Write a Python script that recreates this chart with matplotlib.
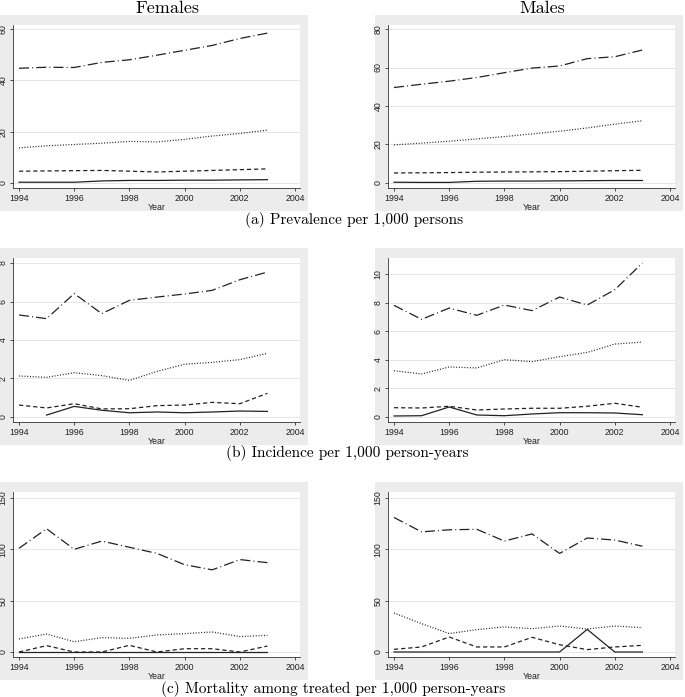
import numpy as np
import matplotlib
matplotlib.use("Agg")
import matplotlib.pyplot as plt
from matplotlib.patches import Rectangle

years = [1994, 1995, 1996, 1997, 1998, 1999, 2000, 2001, 2002, 2003]

# Prevalence per 1,000 persons
prev_f_top = [44.7, 45.1, 45.0, 47.0, 48.0, 49.8, 51.7, 53.6, 56.3, 58.4]
prev_f_dot = [13.7, 14.5, 15.0, 15.5, 16.2, 16.0, 17.0, 18.3, 19.3, 20.6]
prev_f_dash = [4.6, 4.7, 4.8, 4.9, 4.6, 4.3, 4.6, 4.9, 5.2, 5.5]
prev_f_solid = [0.3, 0.3, 0.3, 0.8, 1.0, 1.0, 1.1, 1.1, 1.2, 1.3]

prev_m_top = [49.6, 51.3, 52.9, 54.8, 57.3, 59.7, 60.8, 64.6, 65.6, 69.1]
prev_m_dot = [19.8, 20.7, 21.7, 22.9, 24.1, 25.5, 26.9, 28.6, 30.6, 32.3]
prev_m_dash = [5.2, 5.3, 5.4, 5.6, 5.7, 5.8, 5.9, 6.1, 6.4, 6.6]
prev_m_solid = [0.4, 0.3, 0.3, 0.9, 1.0, 1.0, 1.1, 1.2, 1.3, 1.3]

# Incidence per 1,000 person-years
inc_f_top = [5.30, 5.11, 6.41, 5.37, 6.06, 6.23, 6.39, 6.58, 7.13, 7.53]
inc_f_dot = [2.13, 2.06, 2.30, 2.15, 1.90, 2.37, 2.74, 2.84, 2.98, 3.31]
inc_f_dash = [0.62, 0.47, 0.69, 0.42, 0.43, 0.59, 0.62, 0.76, 0.69, 1.23]
inc_f_solid = [np.nan, 0.10, 0.55, 0.35, 0.22, 0.26, 0.22, 0.26, 0.31, 0.29]

inc_m_top = [7.81, 6.83, 7.62, 7.11, 7.83, 7.44, 8.39, 7.83, 8.90, 10.77]
inc_m_dot = [3.24, 3.01, 3.50, 3.43, 4.01, 3.87, 4.22, 4.52, 5.10, 5.24]
inc_m_dash = [0.65, 0.63, 0.75, 0.49, 0.56, 0.61, 0.61, 0.75, 0.96, 0.68]
inc_m_solid = [0.07, 0.09, 0.70, 0.14, 0.09, 0.21, 0.30, 0.30, 0.28, 0.16]

# Mortality among treated per 1,000 person-years
mort_f_top = [101, 120, 100, 108, 102, 96, 85, 80, 90, 87]
mort_f_dot = [12.7, 17.5, 10.0, 14.0, 13.3, 16.6, 17.9, 19.5, 15.0, 16.2]
mort_f_dash = [0.0, 6.2, 0.0, 0.0, 6.5, 0.0, 3.2, 3.2, 0.0, 5.8]
mort_f_solid = [0, 0, 0, 0, 0, 0, 0, 0, 0, 0]

mort_m_top = [131, 117, 119, 119.5, 108, 115, 96, 111, 109, 103]
mort_m_dot = [38.0, 27.6, 17.9, 21.8, 24.4, 22.7, 25.3, 22.4, 25.3, 23.7]
mort_m_dash = [2.6, 4.9, 14.6, 4.9, 4.9, 14.3, 7.1, 2.3, 4.9, 6.5]
mort_m_solid = [0, 0, 0, 0, 0, 0, 0, 22, 0, 0]

col_titles = ["Females", "Males"]
captions = ["(a) Prevalence per 1,000 persons",
            "(b) Incidence per 1,000 person-years",
            "(c) Mortality among treated per 1,000 person-years"]
xticks = [1994, 1996, 1998, 2000, 2002, 2004]

panels = [
    [(prev_f_top, prev_f_dot, prev_f_dash, prev_f_solid), (prev_m_top, prev_m_dot, prev_m_dash, prev_m_solid)],
    [(inc_f_top, inc_f_dot, inc_f_dash, inc_f_solid), (inc_m_top, inc_m_dot, inc_m_dash, inc_m_solid)],
    [(mort_f_top, mort_f_dot, mort_f_dash, mort_f_solid), (mort_m_top, mort_m_dot, mort_m_dash, mort_m_solid)],
]
yticks = [
    [[0, 20, 40, 60], [0, 20, 40, 60, 80]],
    [[0, 2, 4, 6, 8], [0, 2, 4, 6, 8, 10]],
    [[0, 50, 100, 150], [0, 50, 100, 150]],
]
ylims = [
    [(-1.95, 61.56), (-2.6, 82.08)],
    [(-0.26, 8.26), (-0.35, 11.12)],
    [(-4.87, 155.8), (-4.87, 155.8)],
]

W, H = 685, 697
fig = plt.figure(figsize=(W / 100, H / 100), dpi=100)
fig.patch.set_facecolor("white")

serif = ["cmr10", "DejaVu Serif"]
sans = ["Liberation Sans", "DejaVu Sans"]
lc = "#222222"
gray_bg = "#ececec"

row_axes_y = [(25, 188), (258, 422), (492, 657)]
col_axes_x = [(13, 300), (388, 675)]
col_gray_x = [(0, 308), (375, 683)]
cap_pos = [(354, 220), (347, 453), (333, 689)]

styles = [
    dict(linestyle=(0, (8, 2.5, 0.8, 2.5))),
    dict(linestyle=(0, (0.8, 1.4))),
    dict(linestyle=(0, (3.4, 2.3))),
    dict(linestyle="-"),
]

for r in range(3):
    y0, y1 = row_axes_y[r]
    for c in range(2):
        gx0, gx1 = col_gray_x[c]
        fig.patches.append(Rectangle((gx0 / W, 1 - (y1 + 23) / H), (gx1 - gx0) / W, (y1 - y0 + 33) / H,
                                     transform=fig.transFigure, facecolor=gray_bg, edgecolor="none",
                                     zorder=-10))
        x0, x1 = col_axes_x[c]
        ax = fig.add_axes([x0 / W, 1 - y1 / H, (x1 - x0) / W, (y1 - y0) / H])
        ax.set_zorder(1)
        ax.set_facecolor("white")
        for ser, st in zip(panels[r][c], styles):
            ax.plot(years, ser, color=lc, lw=0.9, **st)
        ax.set_xlim(1993.783, 2004.181)
        ax.set_ylim(*ylims[r][c])
        ax.set_xticks(xticks)
        ax.set_yticks(yticks[r][c])
        ax.set_xticklabels([str(t) for t in xticks], fontfamily=sans, fontsize=6.3)
        ax.set_yticklabels([str(t) for t in yticks[r][c]], fontfamily=sans, fontsize=6.3,
                           rotation=90, va="center")
        ax.tick_params(axis="both", length=2.5, width=0.6, color="#333333", pad=1.5, labelcolor="#222222")
        ax.set_xlabel("Year", fontfamily=sans, fontsize=6.3, labelpad=0.5, color="#222222")
        for s in ["top", "right"]:
            ax.spines[s].set_visible(False)
        for s in ["left", "bottom"]:
            ax.spines[s].set_linewidth(0.6)
            ax.spines[s].set_color("#333333")
        ax.grid(axis="y", color="#e6e6e6", lw=0.7)
        ax.set_axisbelow(True)
        if r == 0:
            fig.text([167, 542][c] / W, 1 - 8 / H, col_titles[c], fontfamily=serif, fontsize=13,
                     ha="center", va="center")
    cx, cy = cap_pos[r]
    fig.text(cx / W, 1 - cy / H, captions[r], fontfamily=serif, fontsize=11, ha="center", va="center")

fig.savefig("out.png", dpi=100, facecolor="white")
